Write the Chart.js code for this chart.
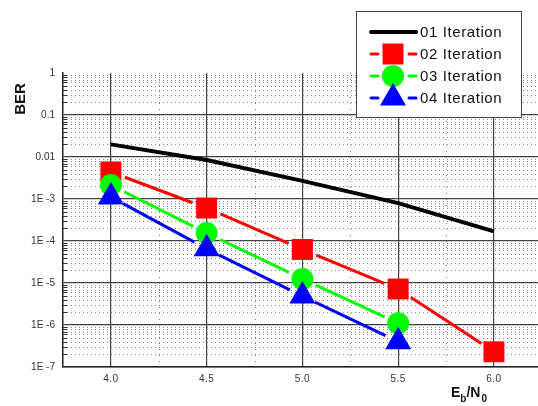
<!DOCTYPE html>
<html>
<head>
<meta charset="utf-8">
<script src="https://cdn.jsdelivr.net/npm/chart.js@4.4.0/dist/chart.umd.min.js"></script>
<style>
  html, body { margin: 0; padding: 0; background: #fff; overflow: hidden; }
</style>
</head>
<body>
<canvas id="myChart" width="538" height="406"></canvas>
<script>
// BER vs Eb/N0 for 1..4 decoder iterations

var ebn0 = [4.0, 4.5, 5.0, 5.5, 6.0]
var iter1 = [0.02, 0.0085, 0.0027, 0.0008, 0.00017]
var iter2 = [0.0044, 0.00061, 0.000063, 0.0000072, 0.00000023]
var iter3 = [0.00215, 0.000155, 0.0000125, 0.0000011]
var iter4 = [0.00112, 0.000065, 0.0000049, 0.0000004]
var seriesNames = ['01 Iteration', '02 Iteration', '03 Iteration', '04 Iteration']

var xTicks = [4.0, 4.5, 5.0, 5.5, 6.0]
var xTickLabels = ['4.0', '4.5', '5.0', '5.5', '6.0']
var xMinorTicks = [4.25, 4.75, 5.25, 5.75]
var yTicks = [1e-7, 1e-6, 1e-5, 1e-4, 1e-3, 0.01, 0.1, 1]
var yTickLabels = ['1E -7', '1E -6', '1E -5', '1E -4', '1E -3', '0.01', '0.1', '1']

function toPoints(ys) {
  var pts = []
  for (var i = 0; i < ys.length; i++) {
    pts.push({x: ebn0[i], y: ys[i]})
  }
  return pts
}

// minor grid: dotted lines at 2..9 of each decade and at the quarter steps
var minorGrid = {
  id: 'minorGrid',
  beforeDatasetsDraw: function(chart) {
    var ctx = chart.ctx
    var a = chart.chartArea
    var xs = chart.scales.x
    var ys = chart.scales.y
    ctx.save()
    ctx.strokeStyle = '#8a8a8a'
    ctx.lineWidth = 1
    ctx.setLineDash([1, 3])
    for (var d = 0; d < yTicks.length - 1; d++) {
      for (var m = 2; m <= 9; m++) {
        var py = Math.round(ys.getPixelForValue(yTicks[d] * m)) + 0.5
        ctx.beginPath()
        ctx.moveTo(a.left, py)
        ctx.lineTo(a.right, py)
        ctx.stroke()
      }
    }
    ctx.setLineDash([1, 5])
    ctx.strokeStyle = '#777'
    for (var k = 0; k < xMinorTicks.length; k++) {
      var px = Math.round(xs.getPixelForValue(xMinorTicks[k])) + 0.5
      ctx.beginPath()
      ctx.moveTo(px, a.top)
      ctx.lineTo(px, a.bottom)
      ctx.stroke()
    }
    // small inward ticks on the left axis
    ctx.setLineDash([])
    ctx.strokeStyle = '#333'
    for (var d2 = 0; d2 < yTicks.length - 1; d2++) {
      for (var m2 = 2; m2 <= 9; m2++) {
        var ty = Math.round(ys.getPixelForValue(yTicks[d2] * m2)) + 0.5
        ctx.beginPath()
        ctx.moveTo(a.left, ty)
        ctx.lineTo(a.left + 4, ty)
        ctx.stroke()
      }
    }
    ctx.restore()
  }
}

// connecting lines that stop short of the symbols
var gapLines = {
  id: 'gapLines',
  beforeDatasetsDraw: function(chart) {
    var ctx = chart.ctx
    ctx.save()
    ctx.lineCap = 'butt'
    chart.data.datasets.forEach(function(ds, i) {
      if (!ds.gapLine) return
      var pts = chart.getDatasetMeta(i).data
      ctx.strokeStyle = ds.borderColor
      ctx.lineWidth = ds.borderWidth
      for (var j = 0; j < pts.length - 1; j++) {
        var x0 = pts[j].x, y0 = pts[j].y, x1 = pts[j + 1].x, y1 = pts[j + 1].y
        var len = Math.sqrt((x1 - x0) * (x1 - x0) + (y1 - y0) * (y1 - y0))
        var ux = (x1 - x0) / len, uy = (y1 - y0) / len
        var g = ds.gapLine
        ctx.beginPath()
        ctx.moveTo(x0 + ux * g, y0 + uy * g)
        ctx.lineTo(x1 - ux * g, y1 - uy * g)
        ctx.stroke()
      }
    })
    ctx.restore()
  }
}

// x tick labels
var xLabels = {
  id: 'xLabels',
  afterDraw: function(chart) {
    var ctx = chart.ctx
    var xs = chart.scales.x
    ctx.save()
    ctx.fillStyle = '#333'
    ctx.font = '10px Arial'
    ctx.letterSpacing = '0.5px'
    ctx.textAlign = 'center'
    ctx.textBaseline = 'middle'
    for (var i = 0; i < xTicks.length; i++) {
      ctx.fillText(xTickLabels[i], xs.getPixelForValue(xTicks[i]), chart.chartArea.bottom + 12)
    }
    ctx.restore()
  }
}

// legend box drawn over the plot, top right
var boxLegend = {
  id: 'boxLegend',
  afterDraw: function(chart) {
    var ctx = chart.ctx
    ctx.save()
    ctx.fillStyle = '#fff'
    ctx.fillRect(356, 11, 165, 106)
    ctx.strokeStyle = '#444'
    ctx.lineWidth = 1
    ctx.strokeRect(356.5, 11.5, 165, 106)
    var rows = [32, 54, 76, 98]
    var dsets = chart.data.datasets
    for (var i = 0; i < dsets.length; i++) {
      var ds = dsets[i]
      var y = rows[i]
      ctx.strokeStyle = ds.borderColor
      ctx.lineWidth = ds.borderWidth
      ctx.lineCap = 'round'
      ctx.beginPath()
      if (ds.pointRadius > 0) {
        ctx.moveTo(371, y); ctx.lineTo(378, y)
        ctx.moveTo(409, y); ctx.lineTo(416, y)
      } else {
        ctx.moveTo(371, y); ctx.lineTo(416, y)
      }
      ctx.stroke()
      if (ds.pointRadius > 0) {
        ctx.fillStyle = ds.pointBackgroundColor
        Chart.helpers.drawPoint(ctx, {
          pointStyle: ds.pointStyle, radius: ds.pointRadius, rotation: 0, borderWidth: 0
        }, 393, y)
      }
      ctx.fillStyle = '#111'
      ctx.font = '15px Arial'
      ctx.letterSpacing = '0.6px'
      ctx.textBaseline = 'middle'
      ctx.textAlign = 'left'
      ctx.fillText(seriesNames[i], 420, y + 1)
    }
    ctx.restore()
  }
}

// axis titles: BER (rotated) and Eb/N0 with subscripts
var axisTitles = {
  id: 'axisTitles',
  afterDraw: function(chart) {
    var ctx = chart.ctx
    ctx.save()
    ctx.fillStyle = '#111'
    ctx.font = 'bold 15px Arial'
    ctx.textAlign = 'center'
    ctx.textBaseline = 'middle'
    ctx.translate(21, 99)
    ctx.rotate(-Math.PI / 2)
    ctx.fillText('BER', 0, 0)
    ctx.restore()

    ctx.save()
    ctx.fillStyle = '#111'
    ctx.textAlign = 'left'
    ctx.textBaseline = 'alphabetic'
    var x = 451
    ctx.font = 'bold 14px Arial'
    ctx.fillText('E', x, 397); x += ctx.measureText('E').width
    ctx.font = 'bold 10px Arial'
    ctx.fillText('b', x, 402); x += ctx.measureText('b').width
    ctx.font = 'bold 14px Arial'
    ctx.fillText('/N', x, 397); x += ctx.measureText('/N').width
    ctx.font = 'bold 10px Arial'
    ctx.fillText('0', x + 1, 402)
    ctx.restore()
  }
}

var ctx = document.getElementById('myChart').getContext('2d')
var myChart = new Chart(ctx, {
  type: 'line',
  data: {
    datasets: [{
      label: seriesNames[0],
      data: toPoints(iter1),
      borderColor: '#000',
      borderWidth: 4,
      pointRadius: 0,
      order: 3
    }, {
      label: seriesNames[1],
      data: toPoints(iter2),
      borderColor: '#ff0000',
      borderWidth: 3,
      showLine: false,
      gapLine: 15,
      pointStyle: 'rect',
      pointRadius: 14.8,
      pointBackgroundColor: '#ff0000',
      pointBorderWidth: 0,
      order: 2
    }, {
      label: seriesNames[2],
      data: toPoints(iter3),
      borderColor: '#00ff00',
      borderWidth: 3,
      showLine: false,
      gapLine: 15,
      pointStyle: 'circle',
      pointRadius: 11,
      pointBackgroundColor: '#00ff00',
      pointBorderWidth: 0,
      order: 1
    }, {
      label: seriesNames[3],
      data: toPoints(iter4),
      borderColor: '#0000ff',
      borderWidth: 3,
      showLine: false,
      gapLine: 14,
      pointStyle: 'triangle',
      pointRadius: 15,
      pointBackgroundColor: '#0000ff',
      pointBorderWidth: 0,
      order: 0
    }]
  },
  options: {
    responsive: false,
    animation: false,
    layout: { autoPadding: false, padding: { top: 73, left: 0, right: 0, bottom: 0 } },
    plugins: {
      legend: { display: false },
      tooltip: { enabled: false }
    },
    scales: {
      x: {
        type: 'linear',
        min: 3.75,
        max: 6.23,
        afterBuildTicks: function(scale) {
          scale.ticks = xTicks.map(function(v) { return {value: v} })
        },
        afterFit: function(scale) { scale.height = 39 },
        ticks: { display: false },
        grid: { color: '#444', lineWidth: 1.2, drawTicks: false },
        border: { color: '#222', width: 1.5 }
      },
      y: {
        type: 'logarithmic',
        min: 1e-7,
        max: 1,
        afterBuildTicks: function(scale) {
          scale.ticks = yTicks.map(function(v) { return {value: v} })
        },
        afterFit: function(scale) {
          scale.width = 63
          scale.paddingTop = 0
          scale.paddingBottom = 0
        },
        ticks: {
          padding: 8,
          color: '#333',
          font: { family: 'Arial', size: 10 },
          callback: function(v, i) { return yTickLabels[i] }
        },
        grid: {
          color: function(c) { return (c.tick && c.tick.value === 1) ? 'rgba(0,0,0,0)' : '#444' },
          lineWidth: 1.2,
          drawTicks: false
        },
        border: { color: '#222', width: 1.5 }
      }
    }
  },
  plugins: [minorGrid, gapLines, xLabels, boxLegend, axisTitles]
})
</script>
</body>
</html>
